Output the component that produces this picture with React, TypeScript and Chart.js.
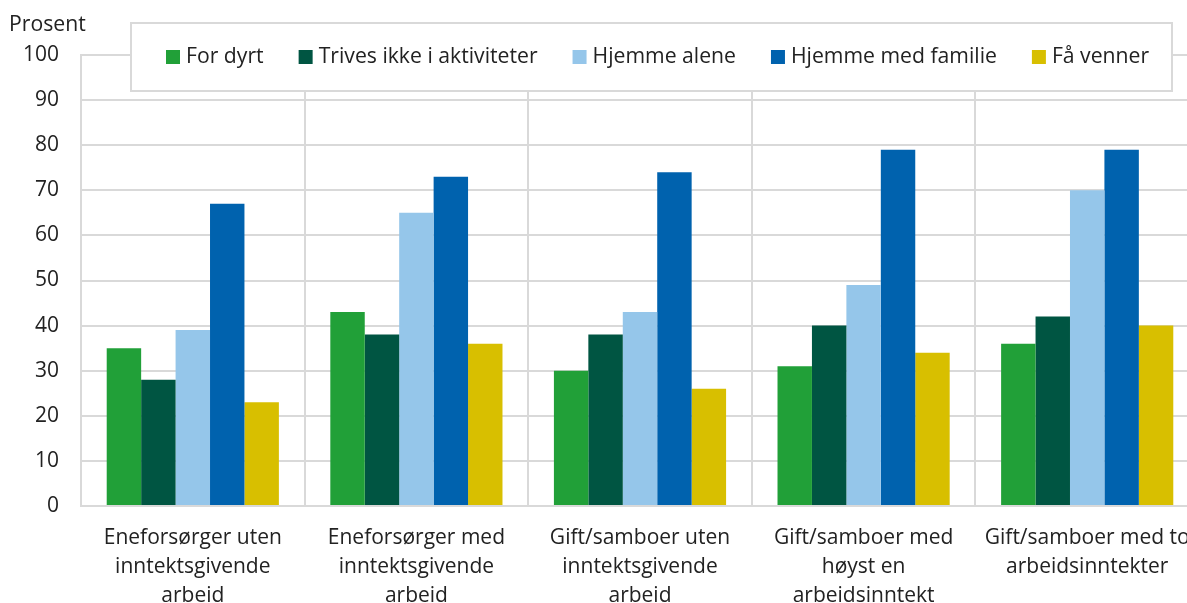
import React, { useEffect, useRef } from "react";
import { Chart, registerables } from "chart.js";

Chart.register(...registerables);

const categories: string[][] = [
  ["Eneforsørger uten", "inntektsgivende", "arbeid"],
  ["Eneforsørger med", "inntektsgivende", "arbeid"],
  ["Gift/samboer uten", "inntektsgivende", "arbeid"],
  ["Gift/samboer med", "høyst en", "arbeidsinntekt"],
  ["Gift/samboer med to", "arbeidsinntekter"],
];

const seriesNames = [
  "For dyrt",
  "Trives ikke i aktiviteter",
  "Hjemme alene",
  "Hjemme med familie",
  "Få venner",
];
const seriesColors = ["#21a038", "#005542", "#95c6ea", "#0062ae", "#d8bf00"];

const forDyrt = [35, 43, 30, 31, 36];
const trivesIkke = [28, 38, 38, 40, 42];
const hjemmeAlene = [39, 65, 43, 49, 70];
const hjemmeFamilie = [67, 73, 74, 79, 79];
const faVenner = [23, 36, 26, 34, 40];

const seriesValues = [forDyrt, trivesIkke, hjemmeAlene, hjemmeFamilie, faVenner];

const FONT = "'Open Sans', 'Noto Sans', sans-serif";
const TEXT = "#222222";
const GRID = "#d9d9d9";
const FS = 21;

const overlayPlugin = {
  id: "overlay",
  afterDraw(chart: any) {
    const ctx = chart.ctx;
    ctx.save();
    ctx.font = `21.2px ${FONT}`;
    ctx.fillStyle = TEXT;
    ctx.textAlign = "left";
    ctx.textBaseline = "middle";
    ctx.fillText("Prosent", 9, 25);
    const bx = 131, by = 23, bw = 1041, bh = 68;
    ctx.fillStyle = "#ffffff";
    ctx.fillRect(bx, by, bw, bh);
    ctx.strokeStyle = GRID;
    ctx.lineWidth = 2;
    ctx.strokeRect(bx, by, bw, bh);
    let x = 166;
    const cy = 57;
    seriesNames.forEach((name, i) => {
      ctx.fillStyle = seriesColors[i];
      ctx.fillRect(x, cy - 7, 14, 14);
      ctx.fillStyle = TEXT;
      ctx.fillText(name, x + 20, cy);
      x += 20 + ctx.measureText(name).width + 35;
    });
    ctx.restore();
  },
};

export default function App() {
  const ref = useRef<HTMLCanvasElement>(null);
  useEffect(() => {
    if (!ref.current) return;
    const chart = new Chart(ref.current, {
      type: "bar",
      data: {
        labels: categories,
        datasets: seriesNames.map((name, i) => ({
          label: name,
          data: seriesValues[i],
          backgroundColor: seriesColors[i],
          borderWidth: 0,
          categoryPercentage: 0.77,
          barPercentage: 1,
        })),
      },
      options: {
        animation: false,
        responsive: false,
        maintainAspectRatio: false,
        layout: { padding: { top: 55, left: 0, right: 1, bottom: 0 } },
        plugins: {
          legend: { display: false },
          tooltip: { enabled: false },
        },
        scales: {
          x: {
            offset: true,
            grid: {
              offset: true,
              color: GRID,
              lineWidth: 2,
              drawTicks: false,
            },
            border: { color: GRID, width: 2 },
            ticks: {
              color: TEXT,
              font: { family: FONT, size: FS, lineHeight: 1.38 },
              padding: 18,
              maxRotation: 0,
              autoSkip: false,
            },
            afterFit: (s: any) => {
              s.height = 97;
              s.paddingLeft = 0;
              s.paddingRight = 0;
            },
          },
          y: {
            min: 0,
            max: 100,
            ticks: {
              stepSize: 10,
              color: TEXT,
              font: { family: FONT, size: FS },
              padding: 22,
            },
            grid: { color: GRID, lineWidth: 2, drawTicks: false },
            border: { color: GRID, width: 2 },
            afterFit: (s: any) => {
              s.width = 81;
            },
          },
        },
      },
      plugins: [overlayPlugin],
    });
    return () => chart.destroy();
  }, []);
  return (
    <div
      style={{
        position: "fixed",
        left: 0,
        top: 0,
        width: 1187,
        height: 603,
        overflow: "hidden",
        background: "#fff",
      }}
    >
      <canvas ref={ref} width={1200} height={603} style={{ display: "block" }} />
    </div>
  );
}
